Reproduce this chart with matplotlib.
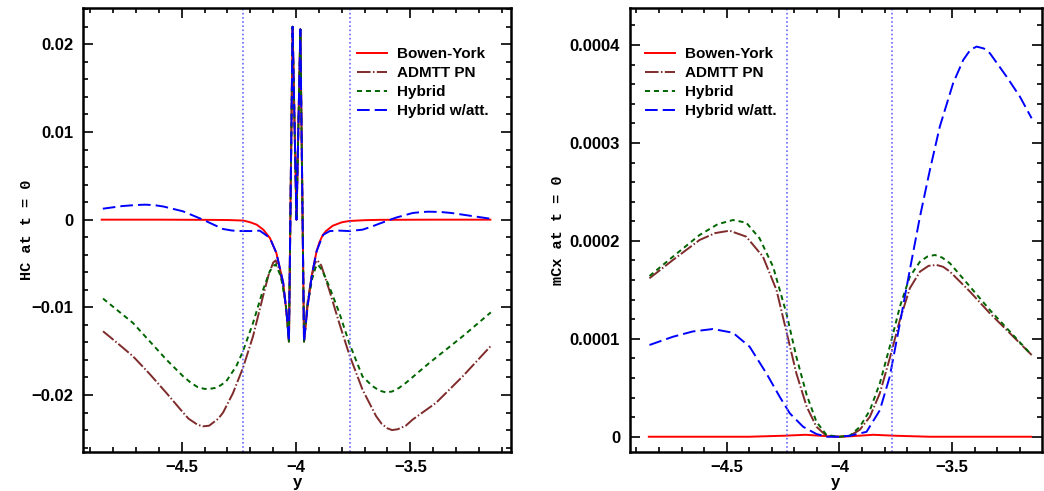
import numpy as np
import matplotlib
matplotlib.use("Agg")
import matplotlib.pyplot as plt
from matplotlib.ticker import MultipleLocator, FuncFormatter


# ---- left panel: HC at t = 0 ----
# central spikes shared by every curve
spike_x = [-4.031, -4.015, -3.998, -3.981, -3.965]
spike_y = [-0.0139, 0.0220, 0.0, 0.0217, -0.0139]

hc_by_x = [-4.85, -4.6, -4.4, -4.3, -4.231, -4.2, -4.172, -4.143, -4.114, -4.086, -4.056, -4.040] + spike_x + \
          [-3.950, -3.930, -3.910, -3.898, -3.884, -3.869, -3.84, -3.80, -3.767, -3.70, -3.636, -3.4, -3.15]
hc_by_y = [0.0, 0.0, -0.00002, -0.00004, -0.0001, -0.0003, -0.00057, -0.00114, -0.0021, -0.0038, -0.0072,
           -0.0110] + spike_y + \
          [-0.0100, -0.0062, -0.0036, -0.0026, -0.0018, -0.0013, -0.0007, -0.0003, -0.00015, -0.00006,
           -0.00002, 0.0, 0.0]

hc_pn_x = [-4.844, -4.78, -4.713, -4.64, -4.567, -4.494, -4.47, -4.43, -4.407, -4.38, -4.34, -4.319,
           -4.276, -4.232, -4.188, -4.144, -4.120, -4.100, -4.089, -4.071, -4.056, -4.042] + spike_x + \
          [-3.950, -3.932, -3.918, -3.907, -3.89, -3.855, -3.811, -3.767, -3.709, -3.65, -3.625, -3.60,
           -3.58, -3.555, -3.52, -3.49, -3.388, -3.271, -3.148]
hc_pn_y = [-0.01273, -0.0141, -0.01558, -0.0176, -0.01976, -0.0220, -0.0227, -0.0234, -0.02357, -0.0235,
           -0.0227, -0.0220, -0.0198, -0.0169, -0.0133, -0.0087, -0.0063, -0.0049, -0.00464, -0.0058,
           -0.0077, -0.0103] + spike_y + \
          [-0.0095, -0.0065, -0.0050, -0.00462, -0.0052, -0.0080, -0.0118, -0.0154, -0.0194, -0.0224,
           -0.0233, -0.0238, -0.0240, -0.0239, -0.0235, -0.0228, -0.0209, -0.01787, -0.01440]

hc_hyb_x = [-4.844, -4.713, -4.567, -4.494, -4.46, -4.43, -4.40, -4.378, -4.355, -4.33, -4.305, -4.261,
            -4.232, -4.188, -4.144, -4.115, -4.100, -4.089, -4.066, -4.045] + spike_x + \
           [-3.950, -3.930, -3.915, -3.905, -3.885, -3.855, -3.811, -3.767, -3.709, -3.665, -3.635, -3.607,
            -3.58, -3.55, -3.519, -3.417, -3.271, -3.148]
hc_hyb_y = [-0.0090, -0.01178, -0.01596, -0.01786, -0.0186, -0.0191, -0.0193, -0.0193, -0.0192, -0.0189,
            -0.01843, -0.0167, -0.0150, -0.01178, -0.0080, -0.0059, -0.0053, -0.0051, -0.0065, -0.0095] + spike_y + \
           [-0.0098, -0.0068, -0.0055, -0.0051, -0.0058, -0.0076, -0.0106, -0.0141, -0.0179, -0.0190,
            -0.0195, -0.0197, -0.0196, -0.0192, -0.0186, -0.01634, -0.0133, -0.01057]

hc_att_x = [-4.845, -4.76, -4.70, -4.66, -4.62, -4.58, -4.494, -4.407, -4.32, -4.28, -4.246, -4.2, -4.159,
            -4.14, -4.114, -4.086, -4.056, -4.040] + spike_x + \
           [-3.950, -3.930, -3.910, -3.895, -3.88, -3.852, -3.81, -3.767, -3.709, -3.67, -3.636, -3.563,
            -3.49, -3.45, -3.42, -3.37, -3.32, -3.271, -3.148]
hc_att_y = [0.00125, 0.00155, 0.00167, 0.00171, 0.00166, 0.00150, 0.00095, 0.0, -0.00106, -0.00124,
            -0.00129, -0.0013, -0.00125, -0.0016, -0.0021, -0.0038, -0.0072, -0.0110] + spike_y + \
           [-0.0100, -0.0062, -0.0036, -0.0026, -0.0017, -0.0013, -0.00125, -0.0013, -0.00114, -0.0008,
            -0.00046, 0.00023, 0.00076, 0.00087, 0.00091, 0.00088, 0.00076, 0.00057, 0.0001]

# ---- right panel: mCx at t = 0 (units of 1e-4) ----
mc_by_x = [-4.845, -4.4, -4.25, -4.15, -4.05, -4.0, -3.95, -3.85, -3.75, -3.6, -3.15]
mc_by_y = [0.0, 0.0, 0.01, 0.02, 0.005, 0.0, 0.005, 0.02, 0.01, 0.0, 0.0]

mc_pn_x = [-4.842, -4.738, -4.62, -4.55, -4.487, -4.413, -4.339, -4.279, -4.235, -4.191, -4.145, -4.102,
           -4.057, -4.0, -3.954, -3.91, -3.865, -3.821, -3.777, -3.732, -3.688, -3.643, -3.605, -3.569,
           -3.54, -3.51, -3.421, -3.333, -3.244, -3.148]
mc_pn_y = [1.618, 1.805, 2.009, 2.08, 2.104, 2.043, 1.839, 1.498, 1.073, 0.648, 0.306, 0.102,
           0.007, 0.0, 0.01, 0.07, 0.204, 0.443, 0.80, 1.192, 1.516, 1.686, 1.745, 1.754,
           1.735, 1.686, 1.481, 1.26, 1.056, 0.835]

mc_hyb_x = [-4.842, -4.738, -4.62, -4.54, -4.472, -4.413, -4.354, -4.294, -4.235, -4.191, -4.145, -4.102,
            -4.057, -4.0, -3.954, -3.91, -3.865, -3.821, -3.777, -3.732, -3.688, -3.643, -3.61, -3.577,
            -3.545, -3.51, -3.421, -3.333, -3.244, -3.148]
mc_hyb_y = [1.641, 1.839, 2.06, 2.17, 2.213, 2.186, 2.026, 1.736, 1.26, 0.817, 0.426, 0.153,
            0.017, 0.0, 0.01, 0.10, 0.27, 0.545, 0.919, 1.328, 1.634, 1.788, 1.84, 1.856,
            1.83, 1.771, 1.532, 1.294, 1.073, 0.835]

mc_att_x = [-4.842, -4.738, -4.65, -4.561, -4.472, -4.398, -4.324, -4.265, -4.22, -4.161, -4.102, -4.057,
            -4.0, -3.954, -3.88, -3.821, -3.777, -3.732, -3.688, -3.643, -3.599, -3.555, -3.496, -3.451,
            -3.42, -3.392, -3.36, -3.333, -3.259, -3.2, -3.148]
mc_att_y = [0.937, 1.021, 1.075, 1.10, 1.062, 0.919, 0.648, 0.409, 0.239, 0.102, 0.028, 0.0,
            0.0, 0.01, 0.05, 0.27, 0.613, 1.158, 1.703, 2.247, 2.724, 3.167, 3.61, 3.848,
            3.95, 3.984, 3.965, 3.916, 3.677, 3.473, 3.252]

labels = ["Bowen-York", "ADMTT PN", "Hybrid", "Hybrid w/att."]
guide_x = [-4.234, -3.765]

colors = ["#ff0000", "#7f2b2b", "#006400", "#0000ff"]
dashes = [None, (7, 1.2, 0.8, 1.2), (2.6, 2.0), (6.5, 2.6)]

tick_font = {"family": "Liberation Sans", "weight": "bold", "size": 12}


def fmt(v, pos):
    if abs(v) < 1e-12:
        return "0"
    return ("%g" % v).replace("-", "\u2212")


def style_axes(ax, ymajor, yminor):
    ax.xaxis.set_major_locator(MultipleLocator(0.5))
    ax.xaxis.set_minor_locator(MultipleLocator(0.1))
    ax.yaxis.set_major_locator(MultipleLocator(ymajor))
    ax.yaxis.set_minor_locator(MultipleLocator(yminor))
    ax.xaxis.set_major_formatter(FuncFormatter(fmt))
    ax.yaxis.set_major_formatter(FuncFormatter(fmt))
    ax.tick_params(which="both", direction="in", top=True, right=True, width=1.2)
    ax.tick_params(which="major", length=7, pad=7)
    ax.tick_params(axis="x", which="major", pad=6)
    ax.tick_params(which="minor", length=3.5)
    for lab in ax.get_xticklabels() + ax.get_yticklabels():
        lab.set_fontproperties(matplotlib.font_manager.FontProperties(**tick_font))
    for s in ax.spines.values():
        s.set_linewidth(1.8)
    ax.set_xlabel("y", fontdict=tick_font)
    ax.xaxis.set_label_coords(0.5, -0.052)


def draw(ax, series):
    for (xs, ys), c, d, lab in zip(series, colors, dashes, labels):
        line, = ax.plot(xs, ys, color=c, lw=1.4, label=lab)
        if d is not None:
            line.set_dashes(d)
    for gx in guide_x:
        ax.axvline(gx, color="#6a6aff", lw=1.2, ls=(0, (1, 1.5)))


fig = plt.figure(figsize=(10.44, 4.91), dpi=100)
ax1 = fig.add_axes([0.0795, 0.0794, 0.41, 0.9043])
ax2 = fig.add_axes([0.6034, 0.0794, 0.3946, 0.9043])

draw(ax1, [(hc_by_x, hc_by_y), (hc_pn_x, hc_pn_y), (hc_hyb_x, hc_hyb_y), (hc_att_x, hc_att_y)])
s = 1e-4
draw(ax2, [(mc_by_x, np.array(mc_by_y) * s), (mc_pn_x, np.array(mc_pn_y) * s),
           (mc_hyb_x, np.array(mc_hyb_y) * s), (mc_att_x, np.array(mc_att_y) * s)])

ax1.set_xlim(-4.9316, -3.0597)
ax1.set_ylim(-0.0265, 0.02414)
ax2.set_xlim(-4.9286, -3.1024)
ax2.set_ylim(-0.0000156, 0.0004378)

style_axes(ax1, 0.01, 0.002)
style_axes(ax2, 0.0001, 0.00002)

mono = {"family": "Liberation Mono", "weight": "bold", "size": 11}
ax1.set_ylabel("HC at t = 0", fontdict=mono)
ax1.yaxis.set_label_coords(-0.114, 0.5)
ax2.set_ylabel("mCx at t = 0", fontdict=mono)
ax2.yaxis.set_label_coords(-0.157, 0.5)

leg_font = matplotlib.font_manager.FontProperties(family="Liberation Sans", weight="bold", size=11)
for ax, x0 in [(ax1, 0.640), (ax2, 0.036)]:
    ax.legend(loc="upper left", bbox_to_anchor=(x0, 0.912), frameon=False, prop=leg_font,
              handlelength=2.0, handletextpad=0.6, labelspacing=0.33, borderpad=0, borderaxespad=0)

fig.savefig("out.png", dpi=100)
